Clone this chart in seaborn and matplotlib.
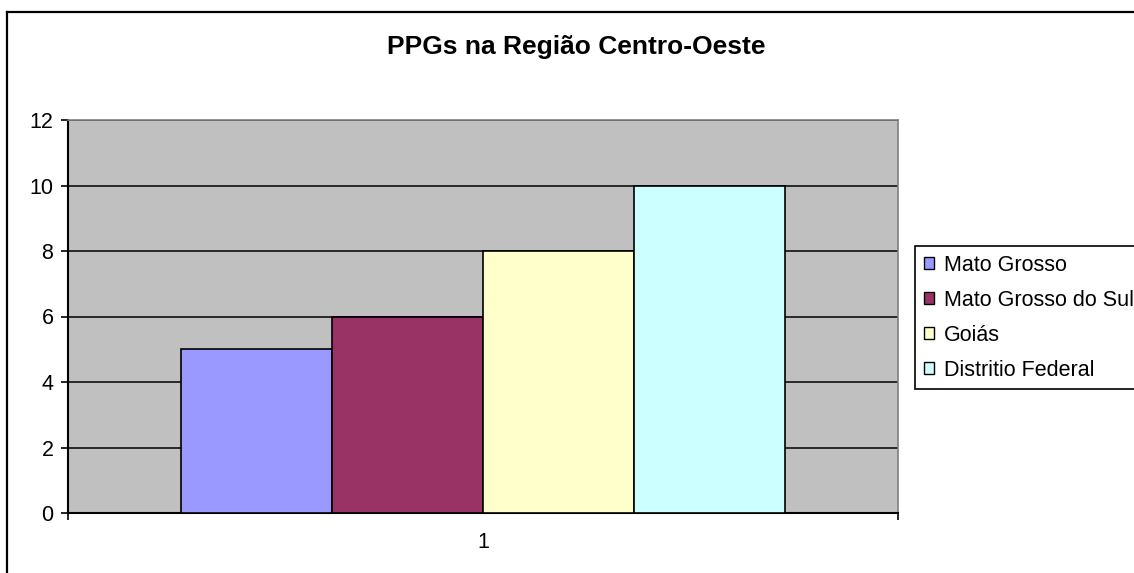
import pandas as pd
import matplotlib
matplotlib.use('Agg')
import matplotlib.pyplot as plt
import seaborn as sns
from matplotlib.patches import Patch
from matplotlib.lines import Line2D

# data
grupos = ['1']
estados = ['Mato Grosso', 'Mato Grosso do Sul', 'Goiás', 'Distritio Federal']
ppgs = [5, 6, 8, 10]
cores = ['#9999FF', '#993366', '#FFFFCC', '#CCFFFF']
yticks = [0, 2, 4, 6, 8, 10, 12]

df = pd.DataFrame({'grupo': grupos * len(estados), 'estado': estados, 'ppgs': ppgs})

plt.rcParams['font.family'] = ['Liberation Sans', 'DejaVu Sans']

fig = plt.figure(figsize=(11.34, 5.73), dpi=100)
ax = fig.add_axes([68/1134, 1 - 513/573, (898 - 68)/1134, (513 - 120)/573])
ax.set_facecolor('#C0C0C0')

sns.barplot(data=df, x='grupo', y='ppgs', hue='estado', hue_order=estados,
            palette=dict(zip(estados, cores)), width=0.728, saturation=1,
            edgecolor='black', linewidth=1.2, legend=False, ax=ax, zorder=3)

ax.set_xlim(-0.5, 0.5)
ax.set_ylim(0, 12)
ax.set_yticks(yticks)
ax.yaxis.grid(True, color='black', linewidth=1.1, zorder=0)
ax.set_axisbelow(True)
ax.set_xlabel('')
ax.set_ylabel('')

# category label in the middle, ticks at the category borders
ax.set_xticks([0])
ax.set_xticklabels(grupos)
ax.set_xticks([-0.5, 0.5], minor=True)
ax.tick_params(axis='x', which='major', length=0, pad=14, labelsize=15.5)
ax.tick_params(axis='x', which='minor', length=5, width=1.2, color='black')
ax.tick_params(axis='y', length=5, width=1.2, pad=5.5, labelsize=15.5, color='black')

for s in ['left', 'bottom']:
    ax.spines[s].set_color('black')
    ax.spines[s].set_linewidth(1.5)
for s in ['top', 'right']:
    ax.spines[s].set_color('#808080')
    ax.spines[s].set_linewidth(1.2)

handles = [Patch(facecolor=c, edgecolor='black', linewidth=1.0) for c in cores]
leg = fig.legend(handles, estados, loc='upper left', bbox_to_anchor=(915/1134, 1 - 246/573),
                 bbox_transform=fig.transFigure, borderaxespad=0, fontsize=15.5,
                 frameon=True, fancybox=False, edgecolor='black', framealpha=1,
                 handlelength=0.5, handleheight=0.5, handletextpad=0.45,
                 labelspacing=0.65, borderpad=0.4)
leg.get_frame().set_linewidth(1.2)

fig.text(576/1134, 1 - 47/573, 'PPGs na Região Centro-Oeste', ha='center', va='center',
         fontsize=19, fontweight='bold')

# chart area border
fig.add_artist(Line2D([7/1134, 7/1134], [0, 1 - 12/573], color='black', linewidth=1.6,
                      transform=fig.transFigure))
fig.add_artist(Line2D([7/1134, 1], [1 - 12/573, 1 - 12/573], color='black', linewidth=1.6,
                      transform=fig.transFigure))

fig.savefig('out.png', dpi=100)
